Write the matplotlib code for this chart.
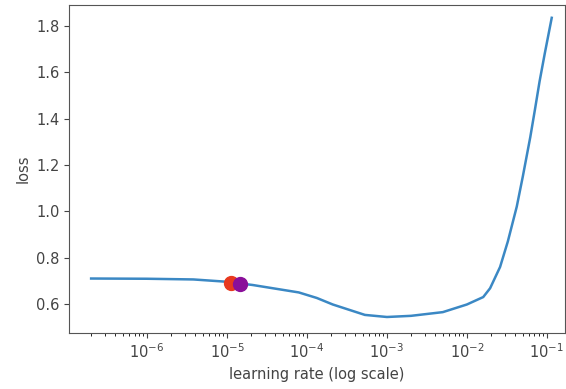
import numpy as np
import matplotlib.pyplot as plt

# learning rate sweep
lrs = [2e-7, 1e-6, 3.8e-6, 1e-5, 2.1e-5, 7.9e-5, 1.33e-4, 2.1e-4, 5.3e-4, 1e-3,
       2e-3, 5e-3, 1.0e-2, 1.6e-2, 1.95e-2, 2.6e-2, 3.25e-2, 4.2e-2, 5.0e-2,
       6.2e-2, 7.1e-2, 8.1e-2, 9.4e-2, 1.15e-1]
losses = [0.710, 0.709, 0.706, 0.696, 0.682, 0.650, 0.626, 0.598, 0.553, 0.544,
          0.549, 0.565, 0.598, 0.630, 0.668, 0.760, 0.870, 1.020, 1.150,
          1.320, 1.440, 1.560, 1.680, 1.835]

# marked points
mark_lr = [1.12e-5, 1.45e-5]
mark_loss = [0.690, 0.686]
mark_colors = ['#e8391f', '#8a0f9a']

fig = plt.figure(figsize=(5.66, 3.89), dpi=100)
ax = fig.add_axes([0.122, 0.144, 0.876, 0.843])

ax.plot(lrs, losses, color='#3b88c4', linewidth=1.8)
for x, y, c in zip(mark_lr, mark_loss, mark_colors):
    ax.plot(x, y, 'o', color=c, markersize=10)

ax.set_xscale('log')
ax.set_xlim(10**-6.975, 10**-0.775)
ax.set_ylim(0.475, 1.89)
ax.set_yticks([0.6, 0.8, 1.0, 1.2, 1.4, 1.6, 1.8])
ax.tick_params(labelsize=10.5, colors='#444444')
ax.set_xlabel('learning rate (log scale)', fontsize=10.5, color='#444444')
ax.set_ylabel('loss', fontsize=10.5, color='#444444')
for s in ax.spines.values():
    s.set_color('#555555')

plt.savefig('out.png')
